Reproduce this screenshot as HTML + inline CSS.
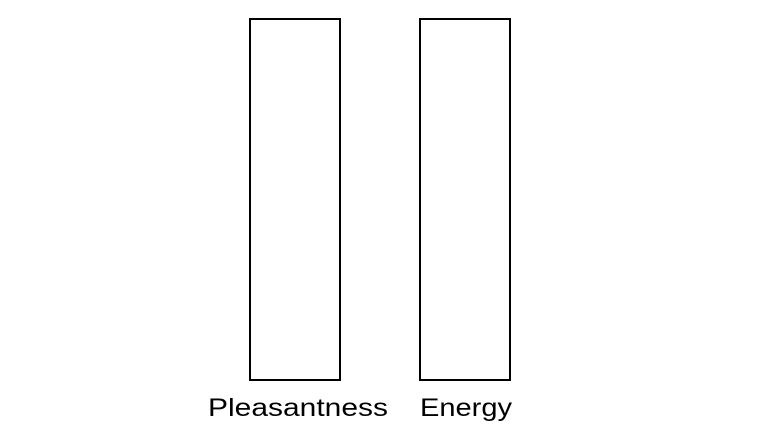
<!DOCTYPE html>
<html>
<head>
<meta charset="utf-8">
<style>
  html,body{margin:0;padding:0;background:#fff;}
  svg{display:block;}
  text{font-family:"Liberation Sans",sans-serif;font-size:25px;fill:#000;}
</style>
</head>
<body>
<svg id="chart" width="760" height="440" viewBox="0 0 760 440"></svg>
<script>
const categories = ["Pleasantness", "Energy"];
const values = [1, 1];
const labelWidths = [180, 92];

const svg = document.getElementById('chart');
const NS = 'http://www.w3.org/2000/svg';
const plotTop = 19, plotBottom = 380;
const yMax = 1;
function yScale(v){ return plotBottom - (v / yMax) * (plotBottom - plotTop); }
const bandStart = 250, bandStep = 170, barW = 90;
function xScale(i){ return bandStart + i * bandStep; }

categories.forEach((c, i) => {
  const r = document.createElementNS(NS, 'rect');
  
  
  const x = xScale(i), y = yScale(values[i]);
  r.setAttribute('x', x);
  r.setAttribute('y', y);
  r.setAttribute('width', barW);
  r.setAttribute('height', plotBottom - y);
  r.setAttribute('fill', 'none');
  r.setAttribute('stroke', '#000');
  r.setAttribute('stroke-width', '2');
  svg.appendChild(r);

  const t = document.createElementNS(NS, 'text');
  
  
  t.setAttribute('x', x + barW / 2 + (i === 0 ? 3 : 1));
  t.setAttribute('y', 416);
  t.setAttribute('text-anchor', 'middle');
  t.setAttribute('textLength', labelWidths[i]);
  t.setAttribute('lengthAdjust', 'spacingAndGlyphs');
  t.textContent = c;
  svg.appendChild(t);
});
</script>
</body>
</html>
